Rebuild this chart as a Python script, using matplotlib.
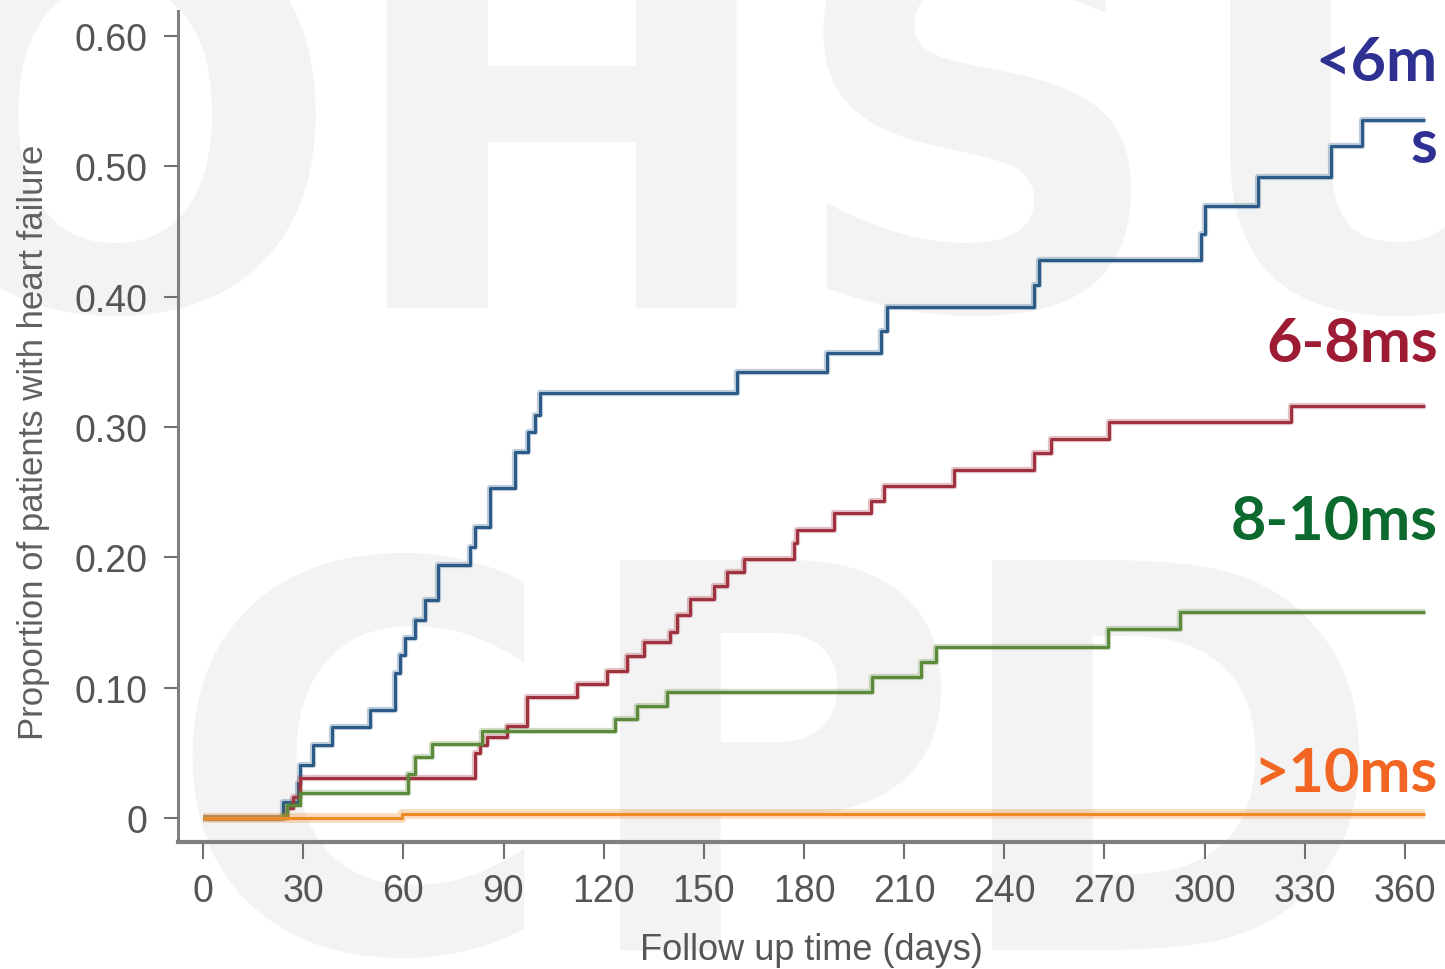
import matplotlib.pyplot as plt
from matplotlib.ticker import FixedLocator

# cumulative incidence of heart failure by QRS group, step curves
days_lt6 = [0, 24, 28.5, 29, 33, 38.6, 50, 57.5, 59, 60.5, 63.5, 66.5, 70.4, 80, 81.5,
            86, 93.4, 97.3, 99.4, 101, 160, 187, 203, 205, 249, 250.5, 299, 300, 316,
            338, 347, 366]
prop_lt6 = [0, 0.012, 0.027, 0.041, 0.056, 0.070, 0.083, 0.111, 0.125, 0.138, 0.152,
            0.167, 0.194, 0.208, 0.223, 0.253, 0.281, 0.296, 0.309, 0.326, 0.342, 0.357,
            0.374, 0.392, 0.409, 0.428, 0.448, 0.470, 0.492, 0.516, 0.536, 0.536]

days_6_8 = [0, 25, 27, 29, 81.5, 83, 85, 91, 97, 112, 121, 127, 132, 140, 142, 146, 153,
            157, 162, 177, 178, 189, 200, 204, 225, 249, 254, 271.5, 326, 366]
prop_6_8 = [0, 0.008, 0.016, 0.031, 0.050, 0.056, 0.062, 0.0705, 0.093, 0.103, 0.113,
            0.124, 0.135, 0.143, 0.156, 0.168, 0.178, 0.189, 0.199, 0.211, 0.221, 0.234,
            0.243, 0.255, 0.267, 0.280, 0.291, 0.304, 0.316, 0.316]

days_8_10 = [0, 24, 25, 29, 61.5, 63.5, 68.5, 83.6, 123.4, 130, 139, 200.5, 215, 219.5,
             271, 292.6, 366]
prop_8_10 = [0, 0.002, 0.010, 0.019, 0.034, 0.047, 0.057, 0.067, 0.076, 0.086, 0.097,
             0.108, 0.120, 0.131, 0.145, 0.158, 0.158]

days_gt10 = [0, 59.5, 366]
prop_gt10 = [0, 0.003, 0.003]

# the first group name wraps onto two lines at the right edge
group_labels = ["<6m\ns", "6-8ms", "8-10ms", ">10ms"]
x_ticks = list(range(0, 361, 30))
y_ticks = [0, 0.1, 0.2, 0.3, 0.4, 0.5, 0.6]
y_tick_labels = ["0", "0.10", "0.20", "0.30", "0.40", "0.50", "0.60"]

line_colors = ["#2c5b88", "#a0323f", "#5b8a3b", "#f08a24"]
text_colors = ["#2e3192", "#9e1b34", "#0d6a2f", "#f26522"]
label_y = [0.566, 0.351, 0.214, 0.0207]
line_gap = 0.0625

sans = ["Liberation Sans", "DejaVu Sans"]
grey = "#555555"

fig = plt.figure(figsize=(14.45, 9.70), dpi=100)
fig.patch.set_facecolor("white")

# faint background lettering
mark_color = "#f3f3f3"
for letter, cx in zip("OHSU", [115, 562, 977, 1398]):
    fig.text(cx / 1445, 1 - 308 / 970, letter, ha="center", va="baseline",
             fontsize=385, fontweight="bold", family="DejaVu Sans",
             color=mark_color, zorder=-5)
for letter, cx in zip("CPD", [362, 767, 1165]):
    fig.text(cx / 1445, 1 - 950 / 970, letter, ha="center", va="baseline",
             fontsize=385, fontweight="bold", family="DejaVu Sans",
             color=mark_color, zorder=-5)

ax = fig.add_axes([178 / 1445, 1 - 843 / 970, 1 - 178 / 1445, (843 - 12) / 970])
ax.patch.set_alpha(0)

series = [(days_lt6, prop_lt6), (days_6_8, prop_6_8), (days_8_10, prop_8_10),
          (days_gt10, prop_gt10)]
for (d, p), col in zip(series, line_colors):
    halo = 7 if col == line_colors[3] else 4.5
    ax.step(d, p, where="post", color=col, lw=halo, alpha=0.3, solid_capstyle="butt")
    ax.step(d, p, where="post", color=col, lw=2.2, solid_capstyle="butt")

for lab, col, yy in zip(group_labels, text_colors, label_y):
    for i, part in enumerate(lab.split("\n")):
        ax.text(369.8, yy - i * line_gap, part, ha="right", va="baseline",
                fontsize=44, fontweight="bold", family="Lato", color=col)

ax.set_xlim(-7.5, 372)
ax.set_ylim(-0.0184, 0.6193)

for side in ["top", "right"]:
    ax.spines[side].set_visible(False)
ax.spines["left"].set_linewidth(2.2)
ax.spines["bottom"].set_linewidth(3.0)
ax.spines["left"].set_color("#808080")
ax.spines["bottom"].set_color("#808080")

ax.xaxis.set_major_locator(FixedLocator(x_ticks))
ax.set_xticklabels([str(t) for t in x_ticks])
ax.yaxis.set_major_locator(FixedLocator(y_ticks))
ax.set_yticklabels(y_tick_labels)
ax.tick_params(axis="x", length=12, width=1.5, color="#707070", pad=10,
               labelsize=27, labelcolor=grey)
ax.tick_params(axis="y", length=10, width=1.5, color="#707070", pad=12,
               labelsize=27, labelcolor=grey)
for t in ax.get_xticklabels() + ax.get_yticklabels():
    t.set_family(sans)

ax.set_xlabel("Follow up time (days)", fontsize=26, color=grey, family=sans,
              labelpad=17)
ax.set_ylabel("Proportion of patients with heart failure", fontsize=25,
              color="#606060", family=sans)
ax.yaxis.set_label_coords(-0.101, 0.4826)

fig.savefig("out.png", dpi=100)
